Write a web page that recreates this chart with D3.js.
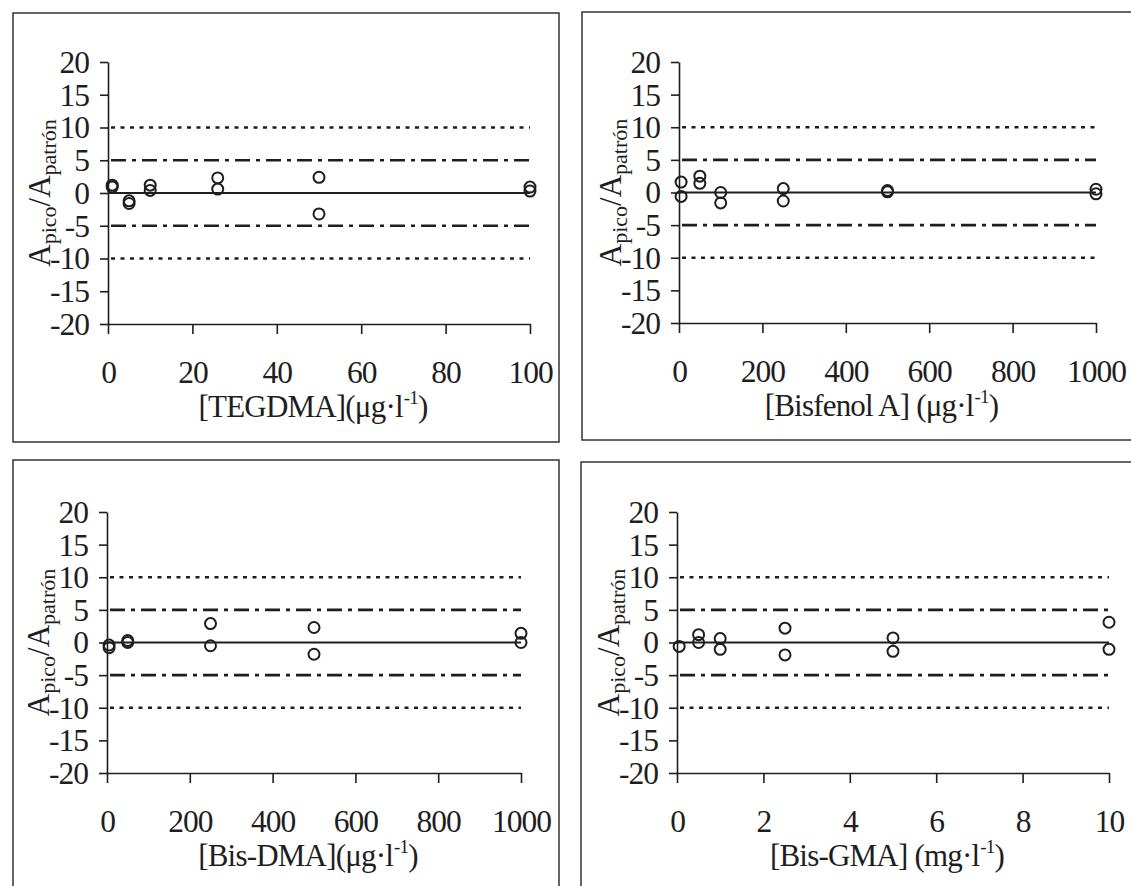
<!DOCTYPE html>
<html>
<head>
<meta charset="utf-8">
<script src="https://cdn.jsdelivr.net/npm/d3@7"></script>
<style>
  html, body { margin: 0; padding: 0; background: #fff; }
  svg { display: block; }
  text { font-family: "Liberation Serif", "Times New Roman", serif; fill: #1e1e1e; }
</style>
</head>
<body>
<svg id="chart" width="1131" height="886"></svg>
<script>
// ---------------- DATA ----------------
const yTicks = [-20, -15, -10, -5, 0, 5, 10, 15, 20];
const refLevels = [10, 5, 0, -5, -10];

const tegdmaTicks = [0, 20, 40, 60, 80, 100];
const tegdmaX = [1, 1, 5, 5, 10, 10, 26, 26, 50, 50, 100, 100];
const tegdmaY = [1.2, 0.9, -1.2, -1.6, 1.2, 0.4, 2.3, 0.6, 2.4, -3.2, 0.9, 0.3];

const bisfenolTicks = [0, 200, 400, 600, 800, 1000];
const bisfenolX = [5, 5, 50, 50, 100, 100, 250, 250, 500, 500, 1000, 1000];
const bisfenolY = [1.6, -0.6, 2.5, 1.4, 0.0, -1.6, 0.6, -1.3, 0.3, 0.1, 0.5, -0.2];

const bisdmaTicks = [0, 200, 400, 600, 800, 1000];
const bisdmaX = [5, 5, 50, 50, 250, 250, 500, 500, 1000, 1000];
const bisdmaY = [-0.4, -0.8, 0.3, 0.0, 2.9, -0.5, 2.3, -1.8, 1.4, 0.0];

const bisgmaTicks = [0, 2, 4, 6, 8, 10];
const bisgmaX = [0.05, 0.5, 0.5, 1, 1, 2.5, 2.5, 5, 5, 10, 10];
const bisgmaY = [-0.6, 1.2, 0.0, 0.6, -1.05, 2.2, -1.9, 0.7, -1.35, 3.1, -1.05];

const xTitles = [
  ["[TEGDMA](μg·l", "-1", ")"],
  ["[Bisfenol A] (μg·l", "-1", ")"],
  ["[Bis-DMA](μg·l", "-1", ")"],
  ["[Bis-GMA] (mg·l", "-1", ")"]
];

// ---------------- LAYOUT ----------------
const panels = [
  { xs: tegdmaX,   ys: tegdmaY,   ticks: tegdmaTicks,   title: xTitles[0],
    x0: 108, x1: 530, yTop: 62,  yBot: 324, box: [13, 13, 559, 442] },
  { xs: bisfenolX, ys: bisfenolY, ticks: bisfenolTicks, title: xTitles[1],
    x0: 679, x1: 1096, yTop: 62, yBot: 323, box: [582, 12, 1145, 440] },
  { xs: bisdmaX,   ys: bisdmaY,   ticks: bisdmaTicks,   title: xTitles[2],
    x0: 107, x1: 521, yTop: 512, yBot: 773, box: [13, 460, 559, 900] },
  { xs: bisgmaX,   ys: bisgmaY,   ticks: bisgmaTicks,   title: xTitles[3],
    x0: 677, x1: 1109, yTop: 512, yBot: 773, box: [581, 462, 1145, 900] }
];

const INK = "#1e1e1e";
const svg = d3.select("#chart");

panels.forEach(p => {
  const g = svg.append("g");
  // panel frame
  g.append("rect")
    .attr("x", p.box[0]).attr("y", p.box[1])
    .attr("width", p.box[2] - p.box[0]).attr("height", p.box[3] - p.box[1])
    .attr("fill", "none").attr("stroke", "#333").attr("stroke-width", 1.5);

  const xDomain = [p.ticks[0], p.ticks[p.ticks.length - 1]];
  const x = d3.scaleLinear().domain(xDomain).range([p.x0, p.x1]);
  const y = d3.scaleLinear().domain([-20, 20]).range([p.yBot, p.yTop]);

  // reference lines
  const styles = {
    "10":  { dash: "4,5.5", w: 2.6 },
    "5":   { dash: "15,6,4,6", w: 2.6 },
    "0":   { dash: null, w: 2.2 },
    "-5":  { dash: "15,6,4,6", w: 2.6 },
    "-10": { dash: "4,5.5", w: 2.6 }
  };
  refLevels.forEach(v => {
    const s = styles[String(v)];
    g.append("line")
      .attr("x1", v === 0 ? x(xDomain[0]) : x(xDomain[0]) + 3)
      .attr("x2", x(xDomain[1]))
      .attr("y1", y(v)).attr("y2", y(v))
      .attr("stroke", INK).attr("stroke-width", s.w)
      .attr("stroke-dasharray", s.dash);
  });

  // axes
  const fmt = d => String(d);
  const yAxis = d3.axisLeft(y).tickValues(yTicks).tickSize(8).tickSizeOuter(0).tickPadding(11)
    .tickFormat(fmt);
  const xAxis = d3.axisBottom(x).tickValues(p.ticks).tickSize(10).tickSizeOuter(0).tickPadding(28)
    .tickFormat(fmt);

  const ya = g.append("g").attr("transform", `translate(${p.x0},0)`).call(yAxis);
  const xa = g.append("g").attr("transform", `translate(0,${p.yBot})`).call(xAxis);
  [ya, xa].forEach(a => {
    a.select(".domain").attr("stroke", INK).attr("stroke-width", 1.6);
    a.selectAll(".tick line").attr("stroke", INK).attr("stroke-width", 1.6);
    a.selectAll(".tick text").attr("fill", INK)
      .style("font-family", '"Liberation Serif", serif').style("font-size", "31.5px")
      .style("letter-spacing", "-1px");
  });
  ya.selectAll(".tick text").attr("dy", "0.33em");
  xa.selectAll(".tick text").attr("dy", "0.66em");

  // points
  g.append("g").selectAll("circle")
    .data(p.xs.map((v, i) => [v, p.ys[i]]))
    .join("circle")
    .attr("cx", d => x(d[0])).attr("cy", d => y(d[1]))
    .attr("r", 5.5)
    .attr("fill", "none").attr("stroke", INK).attr("stroke-width", 2);

  // x-axis title
  const xt = g.append("text")
    .attr("x", (p.x0 + p.x1) / 2 - 6)
    .attr("y", p.yBot + 93)
    .attr("text-anchor", "middle")
    .style("font-size", "31px")
    .style("letter-spacing", "-0.8px");
  xt.append("tspan").text(p.title[0]);
  xt.append("tspan").attr("dx", 1).attr("dy", -13).style("font-size", "19px").text(p.title[1]);
  xt.append("tspan").attr("dy", 13).text(p.title[2]);

  // y-axis title
  const yt = g.append("text")
    .attr("transform", `translate(${p.x0 - 58},${y(0)}) rotate(-90)`)
    .attr("text-anchor", "middle")
    .style("font-size", "31px");
  yt.append("tspan").text("A");
  yt.append("tspan").attr("dy", 6).style("font-size", "22px").text("pico");
  yt.append("tspan").attr("dy", -6).text("/A");
  yt.append("tspan").attr("dy", 6).style("font-size", "22px").text("patrón");
});
</script>
</body>
</html>
